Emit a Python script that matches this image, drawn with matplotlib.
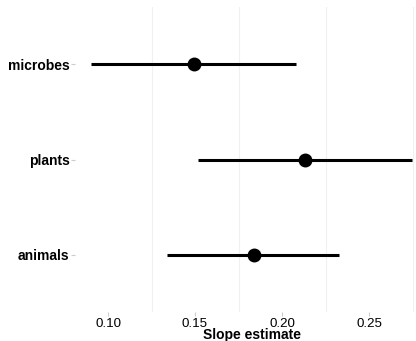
import matplotlib
matplotlib.use("Agg")
import matplotlib.pyplot as plt
import numpy as np

plt.rcParams["font.family"] = ["Liberation Sans", "DejaVu Sans"]

groups = ["animals", "plants", "microbes"]
estimate = [0.1839, 0.2132, 0.1494]
lower = [0.1339, 0.1517, 0.0902]
upper = [0.2328, 0.2745, 0.2080]

xticks = [0.10, 0.15, 0.20, 0.25]
xminor = [0.125, 0.175, 0.225, 0.275]

fig = plt.figure(figsize=(4.16, 3.41), dpi=100)
ax = fig.add_axes([75/416, 29/341, 341/416, 305/341])

y = np.arange(1, len(groups) + 1)
ax.hlines(y, lower, upper, color="black", lw=2.2, zorder=3)
ax.plot(estimate, y, "o", color="black", ms=9, zorder=4)

ax.set_xlim(0.081, 0.277)
ax.set_ylim(0.4, 3.6)
ax.set_xticks(xticks)
ax.set_xticklabels([f"{v:.2f}" for v in xticks])
ax.set_xticks(xminor, minor=True)
ax.set_yticks(y)
ax.set_yticklabels(groups, fontweight="bold")
ax.grid(which="minor", axis="x", color="#f0f0f0", lw=0.8)
ax.tick_params(which="minor", length=0)
ax.tick_params(which="major", length=3, color="#cccccc", labelsize=9.6, pad=1)
ax.tick_params(axis="y", labelsize=10)
for s in ax.spines.values():
    s.set_visible(False)
ax.set_xlabel("Slope estimate", fontweight="bold", fontsize=10, labelpad=-1)
ax.xaxis.label.set_x(0.52)

fig.savefig("out.png", dpi=100)
